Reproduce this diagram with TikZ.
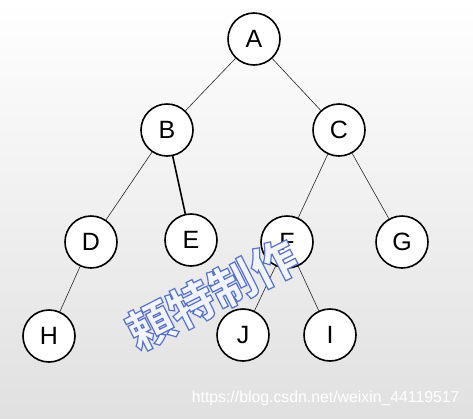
\documentclass[tikz,border=0pt]{standalone}
\usepackage{fontspec}
\setmainfont{Liberation Sans}
\newfontfamily\cjk{Noto Sans CJK JP}
\begin{document}
\begin{tikzpicture}[x=1pt,y=-1pt,
  vtx/.style={circle,draw=black,line width=1.6pt,fill=white,minimum size=52pt,inner sep=0pt,font=\fontsize{25}{25}\selectfont},
  edge/.style={line width=0.6pt,draw=black!85},
  thick edge/.style={line width=1.6pt,draw=black}]
\shade[top color=white,bottom color=black!12] (0,0) rectangle (473,418);
\useasboundingbox (0,0) rectangle (473,418);
\coordinate (pA) at (254,39);
\coordinate (pB) at (167,130);
\coordinate (pC) at (339,130);
\coordinate (pD) at (91,242);
\coordinate (pE) at (191,240);
\coordinate (pF) at (287,242);
\coordinate (pG) at (402,242);
\coordinate (pH) at (49,336);
\coordinate (pJ) at (243,335);
\coordinate (pI) at (330,335);
\node[vtx] (A) at (pA) {A};
\node[vtx] (B) at (pB) {B};
\node[vtx] (C) at (pC) {C};
\node[vtx] (D) at (pD) {D};
\node[vtx] (E) at (pE) {E};
\node[vtx] (F) at (pF) {F};
\node[vtx] (G) at (pG) {G};
\node[vtx] (H) at (pH) {H};
\node[vtx] (J) at (pJ) {J};
\node[vtx] (I) at (pI) {I};
\draw[edge] (A) -- (B);
\draw[edge] (A) -- (C);
\draw[edge] (B) -- (D);
\draw[thick edge] (B) -- (E);
\draw[edge] (C) -- (F);
\draw[edge] (C) -- (G);
\draw[edge] (D) -- (H);
\draw[edge] (F) -- (J);
\draw[edge] (F) -- (I);
% watermark (outlined text)
\node[rotate=27,font=\cjk\bfseries\fontsize{46}{46}\selectfont] (wm) at (212,294)
  {\special{pdf:literal direct 2 Tr 1.2 w 0.35 0.45 0.8 RG 0.95 0.96 1 rg}頼特制作\special{pdf:literal direct 0 Tr}};
% url
\node[anchor=east,text=white,font=\fontsize{15.8}{15.8}\selectfont] (url) at (463,398) {https://blog.csdn.net/weixin\_44119517};
\end{tikzpicture}
\end{document}
